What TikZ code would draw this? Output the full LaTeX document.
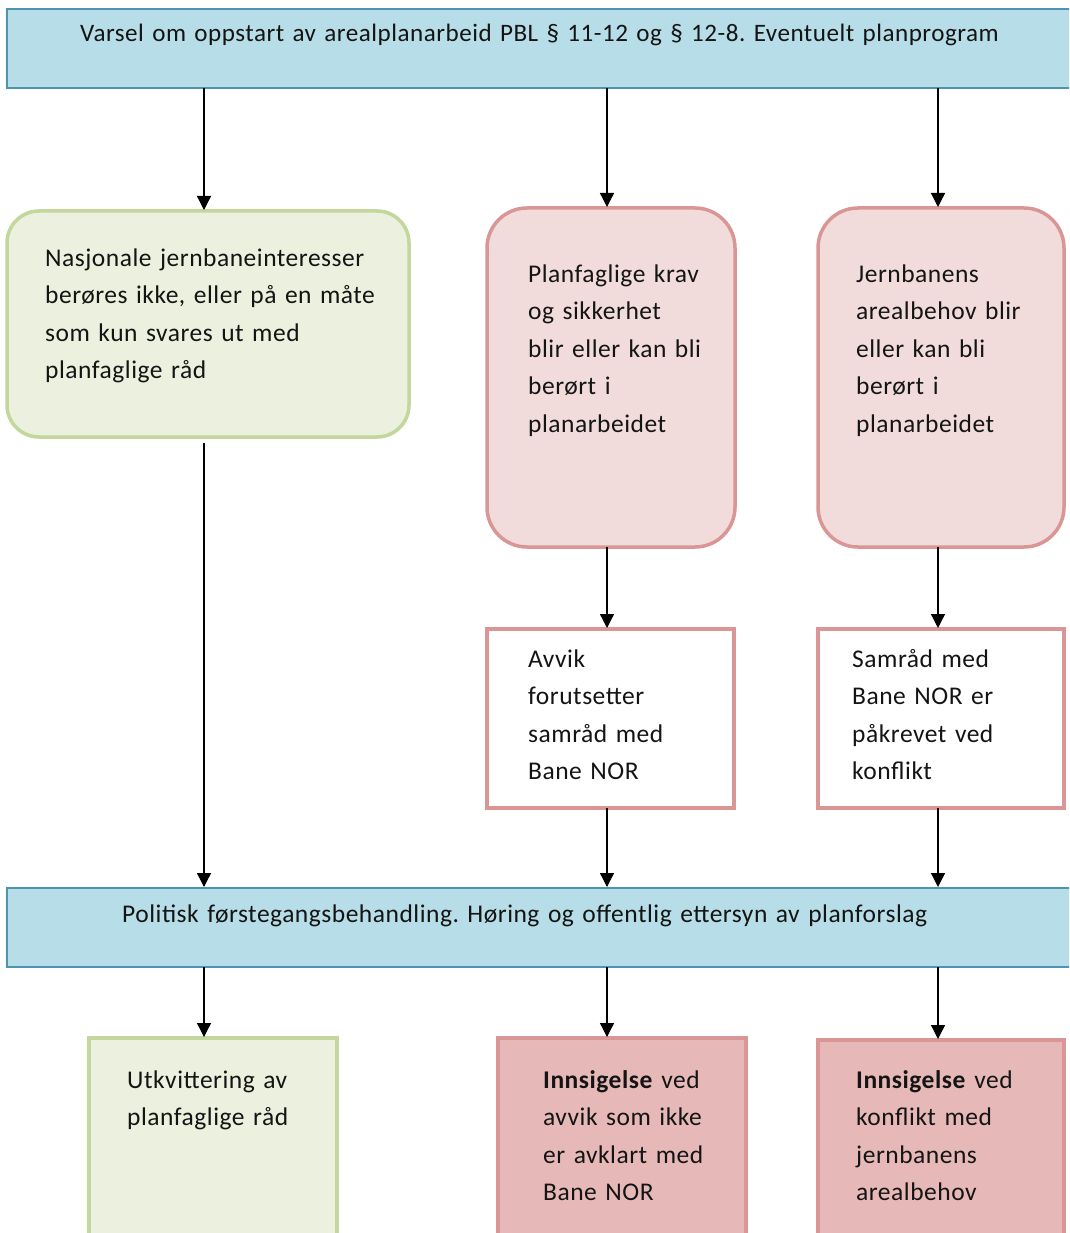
\documentclass[tikz,border=0pt]{standalone}
\usepackage{fontspec}
\setmainfont{Carlito}[LetterSpace=2.0]
\usetikzlibrary{arrows.meta}
\definecolor{bluefill}{HTML}{B7DEE8}
\definecolor{blueline}{HTML}{4F94AE}
\definecolor{greenfill}{HTML}{EBF1DE}
\definecolor{greenline}{HTML}{C3D69B}
\definecolor{pinkfill}{HTML}{F2DCDB}
\definecolor{pinkline}{HTML}{D99694}
\definecolor{redfill}{HTML}{E6B9B8}
\definecolor{txtc}{HTML}{141414}
\frenchspacing
\newcommand\boxfont{\fontsize{25.5}{37.5}\selectfont}
\newcommand\headfont{\fontsize{25.1}{37.5}\selectfont}
\begin{document}
\begin{tikzpicture}[x=1pt,y=-1pt,
  box/.style={anchor=north west, inner sep=0pt, outer sep=0pt},
  bluebox/.style={box, fill=bluefill, draw=blueline, line width=1.6pt},
  greenrbox/.style={box, fill=greenfill, draw=greenline, line width=3.5pt, rounded corners=32pt},
  pinkrbox/.style={box, fill=pinkfill, draw=pinkline, line width=3.5pt, rounded corners=40pt},
  whitebox/.style={box, fill=white, draw=pinkline, line width=3.5pt},
  greenbox/.style={box, fill=greenfill, draw=greenline, line width=3.5pt},
  redbox/.style={box, fill=redfill, draw=pinkline, line width=3.5pt},
  txt/.style={anchor=north west, inner sep=0pt, align=left, text width=400pt,
    font=\boxfont, text=txtc},
  arr/.style={draw=black, line width=1.3pt, -{Triangle[width=14pt,length=14pt]}, shorten >=1pt}
]
\useasboundingbox (0,0) rectangle (1069,1233);
\clip (0,0) rectangle (1069,1233);
\fill[white] (0,0) rectangle (1069,1233);

\coordinate (c1) at (204,0);
\coordinate (c2) at (607,0);
\coordinate (c3) at (938,0);

% boxes
\node[bluebox, minimum width=1070pt, minimum height=79pt] (top) at (7,9) {};
\node[greenrbox, minimum width=402pt, minimum height=226pt] (green1) at (7,211) {};
\node[pinkrbox, minimum width=248pt, minimum height=339pt] (pink1) at (487,208) {};
\node[pinkrbox, minimum width=246pt, minimum height=339pt] (pink2) at (818,208) {};
\node[whitebox, minimum width=247pt, minimum height=179pt] (avvik) at (487,629) {};
\node[whitebox, minimum width=246pt, minimum height=179pt] (samrad) at (818,629) {};
\node[bluebox, minimum width=1070pt, minimum height=79pt] (pol) at (7,888) {};
\node[greenbox, minimum width=248pt, minimum height=220pt] (utk) at (89,1038) {};
\node[redbox, minimum width=248pt, minimum height=220pt] (inn1) at (498,1038) {};
\node[redbox, minimum width=246pt, minimum height=220pt] (inn2) at (818,1040) {};

% texts (baseline - 26.25)
\node[txt, text width=1000pt, font=\headfont] (ttop) at (80,14.75) {\strut Varsel om oppstart av arealplanarbeid PBL § 11-12 og § 12-8. Eventuelt planprogram};
\node[txt] (tgreen1) at (45,239.75) {\strut Nasjonale jernbaneinteresser\\berøres ikke, eller på en måte\\som kun svares ut med\\planfaglige råd};
\node[txt] (tpink1) at (528,255.75) {\strut Planfaglige krav\\og sikkerhet\\blir eller kan bli\\berørt i\\planarbeidet};
\node[txt] (tpink2) at (856,255.75) {\strut Jernbanens\\arealbehov blir\\eller kan bli\\berørt i\\planarbeidet};
\node[txt] (tavvik) at (528,640.75) {\strut Avvik\\forutsetter\\samråd med\\Bane NOR};
\node[txt] (tsamrad) at (852,640.75) {\strut Samråd med\\Bane NOR er\\påkrevet ved\\konflikt};
\node[txt, text width=1000pt] (tpol) at (122,895.75) {\strut Politisk førstegangsbehandling. Høring og offentlig ettersyn av planforslag};
\node[txt] (tutk) at (127,1061.75) {\strut Utkvittering av\\planfaglige råd};
\node[txt] (tinn1) at (543,1061.75) {\strut\textbf{Innsigelse} ved\\avvik som ikke\\er avklart med\\Bane NOR};
\node[txt] (tinn2) at (856,1061.75) {\strut\textbf{Innsigelse} ved\\konflikt med\\jernbanens\\arealbehov};

% connectors
\draw[arr] (top.south -| c1) -- (green1.north -| c1);
\draw[arr] (top.south -| c2) -- (pink1.north -| c2);
\draw[arr] (top.south -| c3) -- (pink2.north -| c3);
\draw[arr, shorten <=6pt] (green1.south -| c1) -- (pol.north -| c1);
\draw[arr] (pink1.south -| c2) -- (avvik.north -| c2);
\draw[arr] (pink2.south -| c3) -- (samrad.north -| c3);
\draw[arr] (avvik.south -| c2) -- (pol.north -| c2);
\draw[arr] (samrad.south -| c3) -- (pol.north -| c3);
\draw[arr] (pol.south -| c1) -- (utk.north -| c1);
\draw[arr] (pol.south -| c2) -- (inn1.north -| c2);
\draw[arr] (pol.south -| c3) -- (inn2.north -| c3);
\end{tikzpicture}
\end{document}
